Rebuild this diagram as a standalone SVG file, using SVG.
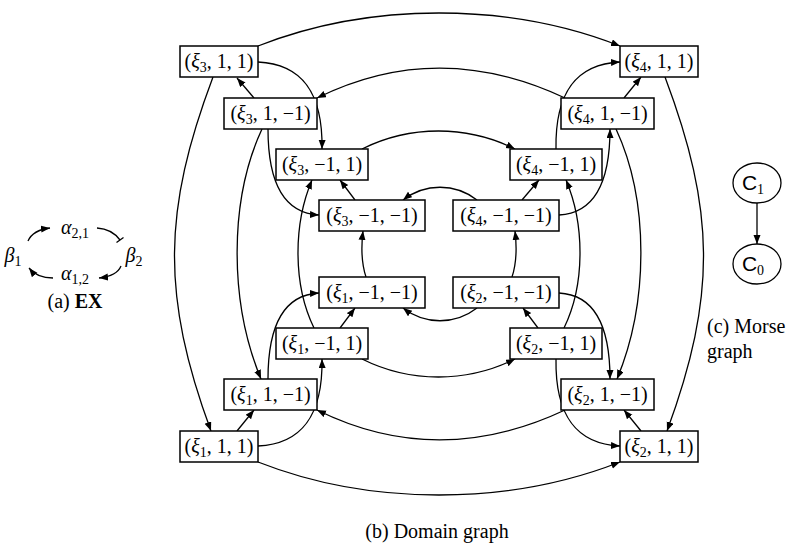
<svg xmlns="http://www.w3.org/2000/svg" width="800" height="551" viewBox="0 0 800 551">
<style>
text{font-family:"Liberation Serif","DejaVu Serif",serif;font-size:20px;fill:#000}
.box{fill:#fff;stroke:#000;stroke-width:1.5}
.e{fill:none;stroke:#000;stroke-width:1.3}
.a{marker-end:url(#ah)}
.i{font-style:italic}
.sf{font-family:"Liberation Sans","DejaVu Sans",sans-serif;font-size:21px}
</style>
<defs>
<marker id="ah" markerUnits="userSpaceOnUse" markerWidth="12" markerHeight="10" refX="9" refY="3.5" orient="auto">
<path d="M0,0 L9,3.5 L0,7 z" fill="#000"/>
</marker>
</defs>

<g id="connectors">
<path class="e a" d="M258,46 C370,2 508,2 620,46"/>
<path class="e a" d="M254,98 L237,78"/>
<path class="e a" d="M258,62 C300,64 323,90 322,149"/>
<path class="e a" d="M565,98 C480,58 398,58 317,98"/>
<path class="e a" d="M268,129 C268,175 280,213 319,215"/>
<path class="e a" d="M355,200 L340,180"/>
<path class="e a" d="M314,328 C293,285 293,225 312,180"/>
<path class="e a" d="M362,149 C410,125 467,125 515,149"/>
<path class="e a" d="M477,200 C455,183 425,183 403,200"/>
<path class="e a" d="M522,200 L539,180"/>
<path class="e a" d="M559,215 C598,213 610,175 610,129"/>
<path class="e a" d="M624,98 L641,77"/>
<path class="e a" d="M556,149 C555,90 578,64 620,62"/>
<path class="e a" d="M564,328 C585,285 585,225 566,180"/>
<path class="e a" d="M616,129 C649,200 649,302 617,379"/>
<path class="e a" d="M665,77 C715,210 717,295 667,431"/>
<path class="e a" d="M213,77 C163,210 161,295 211,431"/>
<path class="e a" d="M262,129 C229,200 229,302 261,379"/>
<path class="e a" d="M258,462 C370,506 508,506 620,462"/>
<path class="e a" d="M237,431 L254,410"/>
<path class="e a" d="M258,446 C300,444 323,418 322,359"/>
<path class="e a" d="M565,410 C480,450 398,450 317,410"/>
<path class="e a" d="M268,379 C268,333 280,295 319,293"/>
<path class="e a" d="M340,328 L355,308"/>
<path class="e a" d="M366,277 C361,262 361,248 363,231"/>
<path class="e a" d="M362,359 C410,383 467,383 515,359"/>
<path class="e a" d="M477,308 C455,325 425,325 403,308"/>
<path class="e a" d="M538,328 L523,308"/>
<path class="e a" d="M512,277 C517,262 517,248 515,231"/>
<path class="e a" d="M559,293 C598,295 610,333 610,379"/>
<path class="e a" d="M556,359 C555,418 578,444 620,446"/>
<path class="e a" d="M641,431 L624,410"/>
</g>

<g id="n3pp"><rect class="box" x="180" y="46" width="78" height="31"/><text x="219" y="68" text-anchor="middle">(<tspan class="i">ξ</tspan><tspan font-size="14" dy="4">3</tspan><tspan dy="-4">, 1, 1)</tspan></text></g>
<g id="n3pm"><rect class="box" x="224" y="98" width="93" height="31"/><text x="270.5" y="120" text-anchor="middle">(<tspan class="i">ξ</tspan><tspan font-size="14" dy="4">3</tspan><tspan dy="-4">, 1, −1)</tspan></text></g>
<g id="n3mp"><rect class="box" x="276" y="149" width="92" height="31"/><text x="322" y="171" text-anchor="middle">(<tspan class="i">ξ</tspan><tspan font-size="14" dy="4">3</tspan><tspan dy="-4">, −1, 1)</tspan></text></g>
<g id="n3mm"><rect class="box" x="319" y="200" width="106" height="31"/><text x="372" y="222" text-anchor="middle">(<tspan class="i">ξ</tspan><tspan font-size="14" dy="4">3</tspan><tspan dy="-4">, −1, −1)</tspan></text></g>
<g id="n4mm"><rect class="box" x="453" y="200" width="106" height="31"/><text x="506" y="222" text-anchor="middle">(<tspan class="i">ξ</tspan><tspan font-size="14" dy="4">4</tspan><tspan dy="-4">, −1, −1)</tspan></text></g>
<g id="n4mp"><rect class="box" x="510" y="149" width="92" height="31"/><text x="556" y="171" text-anchor="middle">(<tspan class="i">ξ</tspan><tspan font-size="14" dy="4">4</tspan><tspan dy="-4">, −1, 1)</tspan></text></g>
<g id="n4pm"><rect class="box" x="561" y="98" width="93" height="31"/><text x="607.5" y="120" text-anchor="middle">(<tspan class="i">ξ</tspan><tspan font-size="14" dy="4">4</tspan><tspan dy="-4">, 1, −1)</tspan></text></g>
<g id="n4pp"><rect class="box" x="620" y="46" width="78" height="31"/><text x="659" y="68" text-anchor="middle">(<tspan class="i">ξ</tspan><tspan font-size="14" dy="4">4</tspan><tspan dy="-4">, 1, 1)</tspan></text></g>

<g id="n1mm"><rect class="box" x="319" y="277" width="106" height="31"/><text x="372" y="299" text-anchor="middle">(<tspan class="i">ξ</tspan><tspan font-size="14" dy="4">1</tspan><tspan dy="-4">, −1, −1)</tspan></text></g>
<g id="n1mp"><rect class="box" x="276" y="328" width="92" height="31"/><text x="322" y="350" text-anchor="middle">(<tspan class="i">ξ</tspan><tspan font-size="14" dy="4">1</tspan><tspan dy="-4">, −1, 1)</tspan></text></g>
<g id="n1pm"><rect class="box" x="224" y="379" width="93" height="31"/><text x="270.5" y="401" text-anchor="middle">(<tspan class="i">ξ</tspan><tspan font-size="14" dy="4">1</tspan><tspan dy="-4">, 1, −1)</tspan></text></g>
<g id="n1pp"><rect class="box" x="180" y="431" width="78" height="31"/><text x="219" y="453" text-anchor="middle">(<tspan class="i">ξ</tspan><tspan font-size="14" dy="4">1</tspan><tspan dy="-4">, 1, 1)</tspan></text></g>
<g id="n2mm"><rect class="box" x="453" y="277" width="106" height="31"/><text x="506" y="299" text-anchor="middle">(<tspan class="i">ξ</tspan><tspan font-size="14" dy="4">2</tspan><tspan dy="-4">, −1, −1)</tspan></text></g>
<g id="n2mp"><rect class="box" x="510" y="328" width="92" height="31"/><text x="556" y="350" text-anchor="middle">(<tspan class="i">ξ</tspan><tspan font-size="14" dy="4">2</tspan><tspan dy="-4">, −1, 1)</tspan></text></g>
<g id="n2pm"><rect class="box" x="561" y="379" width="93" height="31"/><text x="607.5" y="401" text-anchor="middle">(<tspan class="i">ξ</tspan><tspan font-size="14" dy="4">2</tspan><tspan dy="-4">, 1, −1)</tspan></text></g>
<g id="n2pp"><rect class="box" x="620" y="431" width="78" height="31"/><text x="659" y="453" text-anchor="middle">(<tspan class="i">ξ</tspan><tspan font-size="14" dy="4">2</tspan><tspan dy="-4">, 1, 1)</tspan></text></g>

<text x="437" y="538" text-anchor="middle">(b) Domain graph</text>

<g id="ex">
<text x="13" y="262" text-anchor="middle"><tspan class="i">β</tspan><tspan font-size="14" dy="4">1</tspan></text>
<text x="75" y="234" text-anchor="middle"><tspan class="i">α</tspan><tspan font-size="14" dy="4">2,1</tspan></text>
<text x="134" y="262" text-anchor="middle"><tspan class="i">β</tspan><tspan font-size="14" dy="4">2</tspan></text>
<text x="75" y="280" text-anchor="middle"><tspan class="i">α</tspan><tspan font-size="14" dy="4">1,2</tspan></text>
<path class="e a" d="M28,241 Q33,230 50,228"/>
<path class="e" d="M97,228 Q112,229 120,240"/>
<path class="e" d="M116.5,242.5 L123.5,237.5"/>
<path class="e a" d="M121,266 Q117,276 99,278"/>
<path class="e a" d="M53,278 Q37,278 29,268"/>
<text x="75" y="308" text-anchor="middle">(a) <tspan font-weight="bold">EX</tspan></text>
</g>

<g id="c1"><ellipse cx="757" cy="183" rx="24" ry="20" fill="#fff" stroke="#000" stroke-width="1.3"/><text x="753" y="190" text-anchor="middle"><tspan class="sf">C</tspan><tspan font-size="14" dy="4">1</tspan></text></g>
<g id="c0"><ellipse cx="757" cy="264" rx="24" ry="20" fill="#fff" stroke="#000" stroke-width="1.3"/><text x="753" y="271" text-anchor="middle"><tspan class="sf">C</tspan><tspan font-size="14" dy="4">0</tspan></text></g>
<path class="e a" d="M757,203 L757,244"/>
<text x="707" y="333">(c) Morse</text>
<text x="707" y="358">graph</text>
</svg>
